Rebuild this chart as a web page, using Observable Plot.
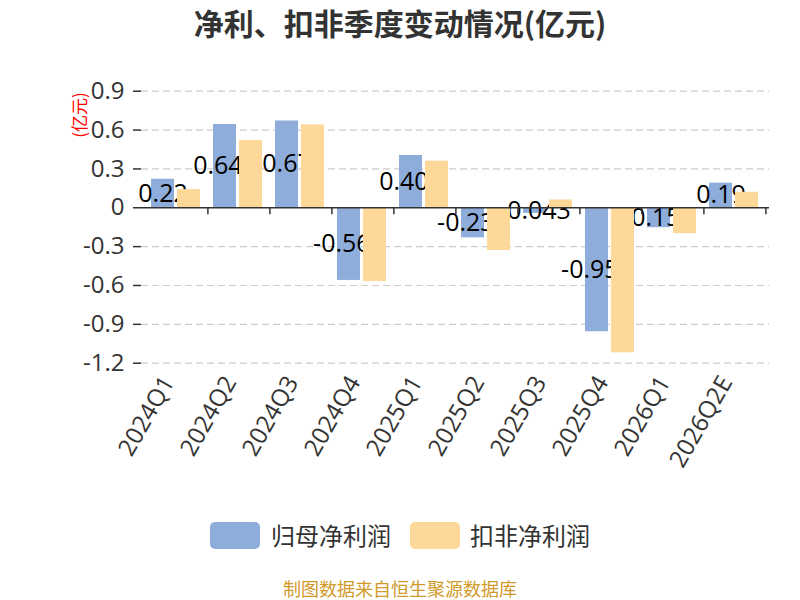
<!DOCTYPE html>
<html>
<head>
<meta charset="utf-8">
<script src="https://cdn.jsdelivr.net/npm/d3@7"></script>
<script src="https://cdn.jsdelivr.net/npm/@observablehq/plot@0.6"></script>
<style>
  body { margin: 0; background: #fff; }
  #wrap { position: relative; width: 800px; height: 600px; overflow: hidden; font-family: "Open Sans", "Noto Sans CJK SC", sans-serif; }
  #title { position: absolute; left: 0; top: 0; width: 800px; height: 44px; line-height: 44px; text-align: center;
           font-family: "Noto Sans CJK SC", sans-serif; font-weight: bold; font-size: 30px; color: #333; }
  #chart { position: absolute; left: 0; top: 45px; }
  .sw { position: absolute; width: 50px; height: 27px; border-radius: 5px; }
  .lt { position: absolute; font-family: "Noto Sans CJK SC", sans-serif; font-size: 24px; color: #333; line-height: 28px; }
  #caption { position: absolute; left: 0; top: 576px; width: 800px; text-align: center; font-family: "Noto Sans CJK SC", sans-serif;
             font-size: 18px; line-height: 24px; color: #d09a2a; }
  #ylab { position: absolute; left: 56px; top: 105px; transform: rotate(-90deg); transform-origin: center; color: #f00;
          font-family: "Noto Sans CJK SC", sans-serif; font-size: 17px; line-height: 20px; white-space: nowrap; }
</style>
</head>
<body>
<div id="wrap">
  <div id="title">净利、扣非季度变动情况(亿元)</div>
  <div id="chart"></div>
  <div id="ylab">(亿元)</div>
  <div id="legend"></div>
  <div id="caption">制图数据来自恒生聚源数据库</div>
</div>
<script>
const categories = ["2024Q1","2024Q2","2024Q3","2024Q4","2025Q1","2025Q2","2025Q3","2025Q4","2026Q1","2026Q2E"];
const netProfit = [0.22, 0.643, 0.67, -0.561, 0.404, -0.232, -0.043, -0.957, -0.154, 0.19];
const deductedProfit = [0.14, 0.52, 0.64, -0.57, 0.36, -0.33, 0.06, -1.12, -0.20, 0.12];
const yTicks = [0.9, 0.6, 0.3, 0, -0.3, -0.6, -0.9, -1.2];
const seriesNames = ["归母净利润", "扣非净利润"];
const seriesColors = ["#8EADDA", "#FED898"];

const data = categories.map((c, i) => ({category: c, net: netProfit[i], deducted: deductedProfit[i]}));

const chart = Plot.plot({
  width: 800,
  height: 440,
  marginTop: 45.7,
  marginBottom: 122.3,
  marginLeft: 141,
  marginRight: 31,
  x: {domain: categories, padding: 0, axis: null},
  y: {domain: [-1.2, 0.9], axis: null},
  style: {fontFamily: "'Open Sans', 'Noto Sans CJK SC', sans-serif", background: "#fff", color: "#333"},
  marks: [
    Plot.ruleY(yTicks.filter(d => d !== 0), {y: d => d, stroke: "#ccc", strokeWidth: 1.2, strokeDasharray: "7,4"}),
    Plot.barY(data, {x: "category", y: "net", fill: seriesColors[0], insetLeft: 6, insetRight: 33}),
    Plot.text(data, {x: "category", y: d => d.net / 2, text: d => String(d.net), dx: -13.5, fontSize: 25, fill: "#000"}),
    Plot.barY(data, {x: "category", y: "deducted", fill: seriesColors[1], insetLeft: 32, insetRight: 7}),
    Plot.ruleY([0], {stroke: "#333", strokeWidth: 1.5}),
    Plot.ruleX(categories, {x: d => d, y1: 0, y2: 0, dx: 31.4, insetBottom: -7, stroke: "#333", strokeWidth: 1.5}),
    Plot.axisY({ticks: yTicks, tickFormat: d => String(d), tickSize: 8, tickPadding: 9, fontSize: 24, color: "#333", line: true, strokeWidth: 1.5, label: null}),
    Plot.axisX({anchor: "bottom", tickSize: 0, tickPadding: 15, tickRotate: -60, fontSize: 24, color: "#333", dx: -8, label: null})
  ]
});
document.getElementById("chart").appendChild(chart);

const legend = document.getElementById("legend");
const legendX = [[210, 271], [410, 470]];
seriesNames.forEach((name, i) => {
  const sw = document.createElement("div");
  sw.className = "sw";
  sw.style.left = legendX[i][0] + "px";
  sw.style.top = "522px";
  sw.style.background = seriesColors[i];
  legend.appendChild(sw);
  const t = document.createElement("div");
  t.className = "lt";
  t.style.left = legendX[i][1] + "px";
  t.style.top = "521px";
  t.textContent = name;
  legend.appendChild(t);
});
</script>
</body>
</html>
